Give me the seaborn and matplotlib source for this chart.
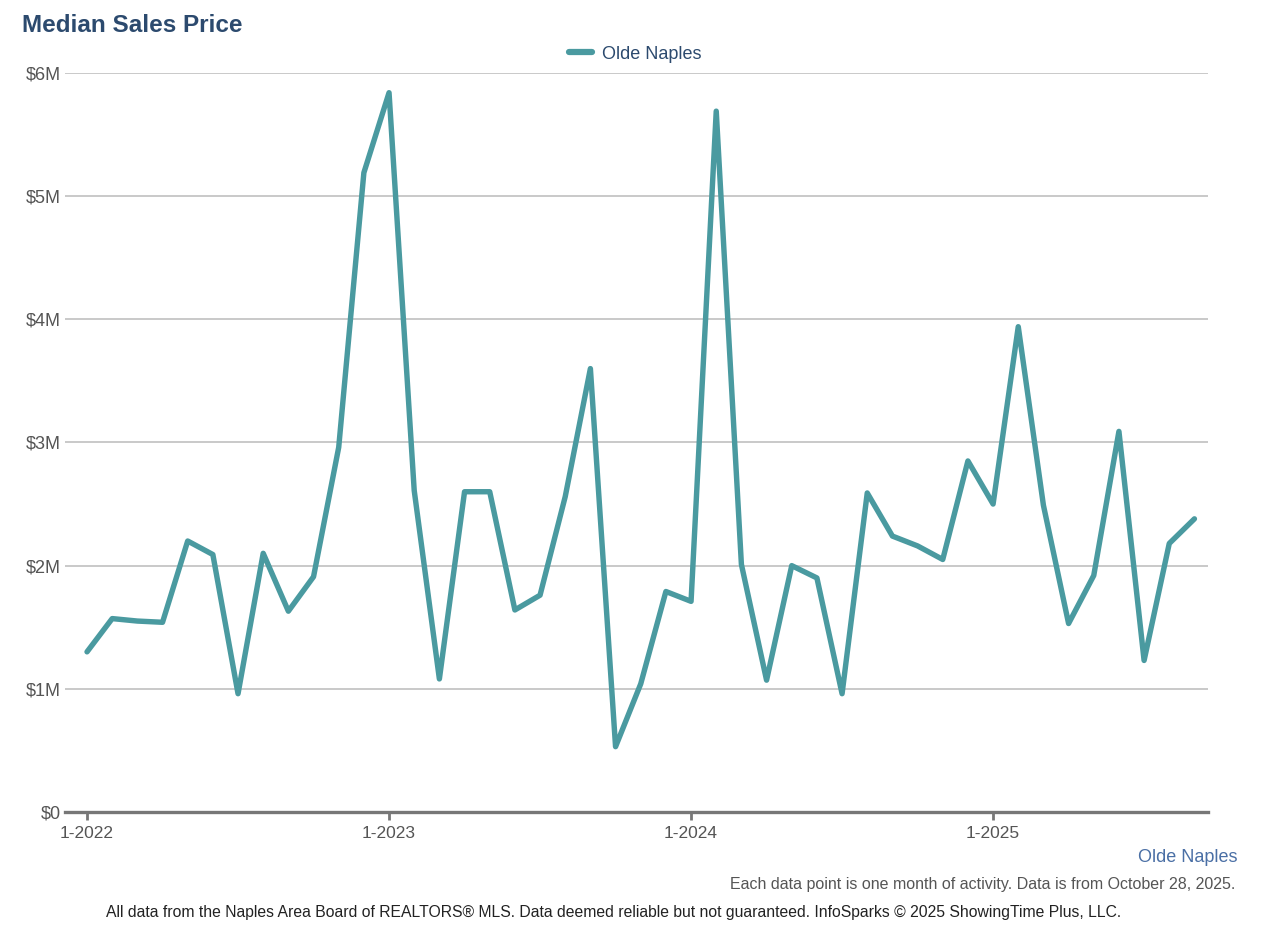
import numpy as np
import pandas as pd
import matplotlib
matplotlib.use("Agg")
import matplotlib.pyplot as plt
import seaborn as sns
from matplotlib.lines import Line2D

# Monthly median sales price, Olde Naples, 1-2022 .. 9-2025 (in $M)
months = pd.date_range("2022-01-01", "2025-09-01", freq="MS")
price_m = [1.30, 1.57, 1.55, 1.54, 2.20, 2.09, 0.96, 2.10, 1.63, 1.91, 2.96, 5.19,
           5.84, 2.61, 1.08, 2.60, 2.60, 1.64, 1.76, 2.56, 3.60, 0.53, 1.04, 1.79,
           1.71, 5.69, 2.01, 1.07, 2.00, 1.90, 0.96, 2.59, 2.24, 2.16, 2.05, 2.85,
           2.50, 3.94, 2.49, 1.53, 1.92, 3.09, 1.23, 2.18, 2.38]
tick_pos = [0, 12, 24, 36]
tick_labels = ["1-2022", "1-2023", "1-2024", "1-2025"]
y_ticks = [0, 1, 2, 3, 4, 5, 6]
y_labels = ["$0", "$1M", "$2M", "$3M", "$4M", "$5M", "$6M"]

df = pd.DataFrame({"idx": np.arange(len(price_m)), "price": price_m,
                   "area": "Olde Naples"})

sns.set_style("white")
plt.rcParams["font.family"] = ["Liberation Sans", "DejaVu Sans"]

line_color = "#4a9aa0"
navy = "#2c4a6e"
gray = "#555555"

fig = plt.figure(figsize=(12.7, 9.32), dpi=100)
ax = fig.add_axes([0.0512, 0.1288, 0.9, 0.7929])

sns.lineplot(data=df, x="idx", y="price", hue="area", palette=[line_color],
             linewidth=3.9, ax=ax, legend=False,
             solid_joinstyle="round", solid_capstyle="round", zorder=3)

ax.set_xlim(-0.874, 44.54)
ax.set_ylim(0, 6)
ax.set_yticks(y_ticks)
ax.set_yticklabels(y_labels)
ax.set_xticks(tick_pos)
ax.set_xticklabels(tick_labels)
ax.set_xlabel("")
ax.set_ylabel("")

for v in y_ticks[1:]:
    ax.axhline(v, color="#c0c0c0", linewidth=1.2, zorder=1)

for s in ["top", "right", "left"]:
    ax.spines[s].set_visible(False)
ax.spines["bottom"].set_color("#777777")
ax.spines["bottom"].set_linewidth(2.4)
ax.spines["bottom"].set_zorder(4)

ax.tick_params(axis="y", left=False, length=0, labelsize=13, labelcolor=gray, pad=3)
ax.tick_params(axis="x", bottom=True, length=6, width=2, color="#777777",
               direction="out", labelsize=12.5, labelcolor=gray, pad=4)

# legend at top center
handle = Line2D([0], [0], color=line_color, linewidth=4.5)
fig.legend([handle], ["Olde Naples"], loc="center", bbox_to_anchor=(0.5, 0.942),
           frameon=False, fontsize=13, handlelength=1.25, handletextpad=0.55,
           labelcolor=navy)

fig.text(22 / 1270, 1 - 25 / 932, "Median Sales Price", fontsize=17.5,
         fontweight="bold", color=navy, ha="left", va="center")
fig.text(1237 / 1270, 1 - 858 / 932, "Olde Naples", fontsize=13,
         color="#4a6fa5", ha="right", va="center")
fig.text(1235 / 1270, 1 - 884 / 932,
         "Each data point is one month of activity. Data is from October 28, 2025.",
         fontsize=11.5, color=gray, ha="right", va="center")
fig.text(614 / 1270, 1 - 913 / 932,
         "All data from the Naples Area Board of REALTORS\u00ae MLS. Data deemed reliable but not guaranteed. InfoSparks \u00a9 2025 ShowingTime Plus, LLC.",
         fontsize=11.3, color="#222222", ha="center", va="center")

fig.savefig("out.png", dpi=100)
